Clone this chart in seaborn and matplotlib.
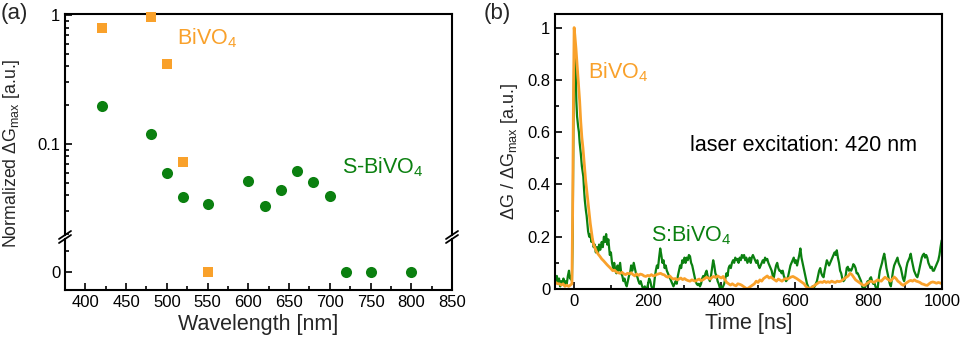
import numpy as np
import pandas as pd
import matplotlib
matplotlib.use("Agg")
import matplotlib.pyplot as plt
from matplotlib.lines import Line2D
from matplotlib.ticker import FixedLocator, NullFormatter, FixedFormatter, MultipleLocator
import seaborn as sns

# ---------------- data ----------------
wavelength_bivo4 = [420, 480, 500, 520, 550]
signal_bivo4 = [0.79, 0.97, 0.42, 0.072, 0.0]

wavelength_sbivo4 = [420, 480, 500, 520, 550, 600, 620, 640, 660, 680, 700, 720, 750, 800]
signal_sbivo4 = [0.197, 0.12, 0.060, 0.0386, 0.0344, 0.052, 0.033, 0.044, 0.0614, 0.0507, 0.0395, 0.0, 0.0, 0.0]

x_ticks_a = [400, 450, 500, 550, 600, 650, 700, 750, 800, 850]
x_ticks_b = [0, 200, 400, 600, 800, 1000]
y_ticks_b = [0, 0.2, 0.4, 0.6, 0.8, 1.0]
y_ticklabels_b = ["0", "0.2", "0.4", "0.6", "0.8", "1"]

green_time = [-50, -47, -44, -41, -38, -35, -32, -29, -26, -23, -20, -17, -14, -11, -8, -6, -4, -2, 0, 2, 4, 6, 8, 11, 13, 15, 18, 21, 25, 27, 29, 32, 34, 36, 38, 41, 44, 47, 50, 53, 56, 59, 62, 65, 68, 71, 75, 78, 81, 84, 87, 90, 93, 97, 100, 103, 106, 109, 112, 115, 118, 121, 125, 128, 131, 134, 137, 140, 143, 146, 149, 152, 155, 158, 162, 165, 168, 171, 175, 178, 181, 185, 188, 192, 195, 198,
              201, 204, 207, 210, 213, 216, 219, 222, 225, 228, 231, 234, 237, 240, 243, 246, 249, 252, 255, 258, 261, 264, 267, 270, 273, 276, 279, 282, 285, 288, 291, 294, 297, 300, 303, 306, 309, 312, 315, 318, 321, 324, 327, 330, 333, 336, 339, 342, 345, 348, 351, 354, 357, 360, 363, 366, 369, 372, 375, 378, 381, 384, 387, 390, 393, 396, 399,
              402, 405, 408, 411, 414, 417, 420, 423, 426, 429, 432, 435, 438, 441, 444, 447, 450, 453, 456, 459, 462, 465, 468, 471, 474, 477, 480, 483, 486, 489, 492, 495, 498, 501, 504, 507, 510, 513, 516, 519, 522, 525, 528, 531, 534, 537, 540, 543, 546, 549, 552, 555, 558, 561, 564, 567, 570, 573, 576, 579, 582, 585, 588, 591, 594, 597, 600,
              603, 606, 609, 612, 615, 618, 621, 624, 627, 630, 633, 636, 639, 642, 645, 648, 651, 654, 657, 660, 663, 666, 669, 672, 675, 678, 681, 684, 687, 690, 693, 696, 699, 702, 705, 708, 711, 714, 717, 720, 723, 726, 729, 732, 735, 738, 741, 744, 747, 750, 753, 756, 759, 762, 765, 768, 771, 774, 777, 780, 783, 786, 789, 792, 795, 798,
              801, 804, 807, 810, 813, 816, 819, 822, 825, 828, 831, 834, 837, 840, 843, 846, 849, 852, 855, 858, 861, 864, 867, 870, 873, 876, 879, 882, 885, 888, 891, 894, 897, 900, 903, 906, 909, 912, 915, 918, 921, 924, 927, 930, 933, 936, 939, 942, 945, 948, 951, 954, 957, 960, 963, 966, 969, 972, 975, 978, 981, 984, 987, 990, 993, 996, 999]
green_signal = [0.03, 0.05, 0.02, 0.04, 0.01, 0.03, 0.02, 0.04, 0.015, 0.03, 0.02, 0.05, 0.07, 0.04, 0.05, 0.03, 0.2, 0.6, 0.85, 0.92, 0.85, 0.72, 0.66, 0.62, 0.6, 0.56, 0.52, 0.47, 0.43, 0.38, 0.34, 0.3, 0.28, 0.25, 0.22, 0.2, 0.21, 0.18, 0.19, 0.16, 0.17, 0.14, 0.16, 0.14, 0.17, 0.15, 0.18, 0.16, 0.2, 0.18, 0.21, 0.17, 0.19, 0.13, 0.14, 0.1, 0.08, 0.1, 0.07, 0.06, 0.09, 0.07, 0.1, 0.06, 0.05, 0.03, 0.04, 0.02, 0.01, 0.03, 0.05, 0.06, 0.09, 0.07, 0.1, 0.08, 0.06, 0.05, 0.03, 0.02, 0.03, 0.01, 0.0, 0.01, 0.0, 0.0,
                0.02, 0.04, 0.03, 0.01, 0.0, 0.0, 0.04, 0.07, 0.09, 0.08, 0.12, 0.155, 0.13, 0.1, 0.11, 0.08, 0.09, 0.07, 0.06, 0.05, 0.04, 0.03, 0.02, 0.01, 0.02, 0.03, 0.02, 0.05, 0.07, 0.09, 0.08, 0.11, 0.1, 0.12, 0.1, 0.12, 0.11, 0.13, 0.125, 0.1, 0.09, 0.07, 0.05, 0.03, 0.02, 0.015, 0.02, 0.01, 0.02, 0.04, 0.05, 0.04, 0.06, 0.07, 0.05, 0.04, 0.03, 0.05, 0.08, 0.11, 0.09, 0.06, 0.05, 0.03, 0.02, 0.005, 0.01,
                0.0, 0.01, 0.02, 0.04, 0.06, 0.05, 0.08, 0.09, 0.08, 0.1, 0.11, 0.1, 0.12, 0.11, 0.115, 0.1, 0.12, 0.11, 0.13, 0.12, 0.13, 0.11, 0.12, 0.1, 0.11, 0.12, 0.1, 0.12, 0.13, 0.12, 0.11, 0.1, 0.11, 0.09, 0.08, 0.09, 0.1, 0.11, 0.1, 0.12, 0.11, 0.115, 0.1, 0.09, 0.08, 0.07, 0.05, 0.045, 0.07, 0.09, 0.1, 0.08, 0.07, 0.07, 0.06, 0.07, 0.05, 0.04, 0.03, 0.035, 0.05, 0.07, 0.09, 0.1, 0.11, 0.12, 0.1,
                0.11, 0.09, 0.11, 0.13, 0.155, 0.12, 0.1, 0.08, 0.06, 0.04, 0.02, 0.01, 0.0, 0.0, 0.005, 0.01, 0.005, 0.01, 0.02, 0.03, 0.05, 0.07, 0.08, 0.06, 0.05, 0.045, 0.07, 0.09, 0.11, 0.1, 0.09, 0.1, 0.11, 0.12, 0.13, 0.14, 0.13, 0.148, 0.12, 0.1, 0.07, 0.06, 0.04, 0.03, 0.035, 0.05, 0.08, 0.085, 0.07, 0.075, 0.07, 0.08, 0.095, 0.09, 0.08, 0.06, 0.06, 0.05, 0.04, 0.03, 0.01, 0.0, 0.0, 0.01, 0.02, 0.03,
                0.02, 0.04, 0.045, 0.03, 0.02, 0.025, 0.01, 0.0, 0.0, 0.04, 0.07, 0.085, 0.1, 0.12, 0.135, 0.11, 0.08, 0.06, 0.04, 0.02, 0.01, 0.04, 0.07, 0.09, 0.1, 0.11, 0.12, 0.1, 0.09, 0.08, 0.06, 0.04, 0.03, 0.05, 0.08, 0.1, 0.11, 0.12, 0.135, 0.11, 0.09, 0.07, 0.06, 0.05, 0.045, 0.06, 0.08, 0.1, 0.12, 0.13, 0.135, 0.12, 0.13, 0.12, 0.1, 0.09, 0.08, 0.085, 0.07, 0.07, 0.08, 0.09, 0.1, 0.11, 0.13, 0.16, 0.186]

orange_time = [-50, -45, -40, -35, -30, -25, -20, -15, -10, -6, -4, -2, 0, 2, 5, 8, 11, 15, 18, 21, 24, 28, 31, 34, 38, 41, 44, 47, 50, 53, 56, 60, 65, 70, 75, 80, 85, 90, 95, 100, 105, 110, 115, 120, 125, 130, 135, 140, 145, 150, 155, 160, 165, 170, 175, 180, 185, 190, 195,
               200, 205, 210, 215, 220, 225, 230, 235, 240, 245, 250, 255, 260, 265, 270, 275, 280, 285, 290, 295, 300, 305, 310, 315, 320, 325, 330, 335, 340, 345, 350, 355, 360, 365, 370, 375, 380, 385, 390, 395,
               400, 405, 410, 415, 420, 425, 430, 435, 440, 445, 450, 455, 460, 465, 470, 475, 480, 485, 490, 495, 500, 505, 510, 515, 520, 525, 530, 535, 540, 545, 550, 555, 560, 565, 570, 575, 580, 585, 590, 595,
               600, 605, 610, 615, 620, 625, 630, 635, 640, 645, 650, 655, 660, 665, 670, 675, 680, 685, 690, 695, 700, 705, 710, 715, 720, 725, 730, 735, 740, 745, 750, 755, 760, 765, 770, 775, 780, 785, 790, 795,
               800, 805, 810, 815, 820, 825, 830, 835, 840, 845, 850, 855, 860, 865, 870, 875, 880, 885, 890, 895, 900, 905, 910, 915, 920, 925, 930, 935, 940, 945, 950, 955, 960, 965, 970, 975, 980, 985, 990, 995, 1000]
orange_signal = [0.025, 0.02, 0.02, 0.015, 0.02, 0.01, 0.015, 0.01, 0.015, 0.02, 0.3, 0.7, 1.0, 0.97, 0.92, 0.86, 0.8, 0.72, 0.64, 0.58, 0.54, 0.47, 0.42, 0.38, 0.33, 0.29, 0.25, 0.22, 0.19, 0.17, 0.16, 0.145, 0.134, 0.125, 0.115, 0.108, 0.1, 0.092, 0.085, 0.078, 0.07, 0.072, 0.065, 0.062, 0.06, 0.064, 0.058, 0.055, 0.06, 0.058, 0.062, 0.055, 0.05, 0.058, 0.052, 0.057, 0.055, 0.05, 0.048,
                 0.052, 0.05, 0.055, 0.05, 0.052, 0.056, 0.058, 0.06, 0.056, 0.054, 0.048, 0.045, 0.05, 0.042, 0.038, 0.04, 0.035, 0.038, 0.042, 0.036, 0.04, 0.035, 0.032, 0.03, 0.035, 0.032, 0.03, 0.035, 0.038, 0.032, 0.035, 0.04, 0.045, 0.042, 0.038, 0.045, 0.048, 0.044, 0.05, 0.046,
                 0.042, 0.048, 0.035, 0.025, 0.02, 0.015, 0.02, 0.015, 0.012, 0.02, 0.018, 0.015, 0.01, 0.005, 0.0, 0.005, 0.01, 0.015, 0.02, 0.03, 0.025, 0.035, 0.03, 0.04, 0.045, 0.05, 0.042, 0.046, 0.04, 0.035, 0.03, 0.038, 0.034, 0.03, 0.036, 0.04, 0.038, 0.042, 0.046, 0.048,
                 0.044, 0.04, 0.035, 0.03, 0.025, 0.02, 0.01, 0.005, 0.0, 0.005, 0.01, 0.015, 0.02, 0.025, 0.027, 0.025, 0.03, 0.025, 0.028, 0.025, 0.03, 0.027, 0.025, 0.03, 0.028, 0.03, 0.035, 0.04, 0.045, 0.05, 0.06, 0.055, 0.045, 0.035, 0.03, 0.025, 0.02, 0.015, 0.014, 0.02,
                 0.025, 0.03, 0.028, 0.025, 0.03, 0.035, 0.032, 0.03, 0.038, 0.045, 0.04, 0.035, 0.03, 0.038, 0.046, 0.04, 0.03, 0.025, 0.018, 0.014, 0.02, 0.025, 0.03, 0.033, 0.03, 0.035, 0.03, 0.028, 0.025, 0.02, 0.018, 0.015, 0.014, 0.02, 0.025, 0.027, 0.025, 0.022, 0.025, 0.023, 0.02]

# ---------------- style ----------------
sns.set_theme(style="ticks")
plt.rcParams["font.family"] = ["Liberation Sans", "DejaVu Sans"]
plt.rcParams["mathtext.fontset"] = "custom"
plt.rcParams["mathtext.rm"] = "Liberation Sans"
plt.rcParams["mathtext.it"] = "Liberation Sans:italic"
plt.rcParams["mathtext.default"] = "regular"

ORANGE = "#F9A12B"
GREEN = "#0B8010"
TICK_FS = 12
LABEL_FS = 15.5
ANN_FS = 15.5
SPINE_W = 1.5

W, H = 962, 342
fig = plt.figure(figsize=(W / 100, H / 100), dpi=100)

def frac(left_px, top_px, right_px, bottom_px):
    return [left_px / W, 1 - bottom_px / H, (right_px - left_px) / W, (bottom_px - top_px) / H]

ax_up = fig.add_axes(frac(65, 14, 452, 235))
ax_lo = fig.add_axes(frac(65, 239, 452, 290))
ax_b = fig.add_axes(frac(555, 14, 942, 289))

df_b = pd.DataFrame({"x": wavelength_bivo4, "y": signal_bivo4})
df_s = pd.DataFrame({"x": wavelength_sbivo4, "y": signal_sbivo4})

for ax, sel in ((ax_up, lambda d: d[d.y > 0]), (ax_lo, lambda d: d[d.y <= 0])):
    sns.scatterplot(data=sel(df_s), x="x", y="y", ax=ax, color=GREEN, marker="o",
                    s=64, linewidth=0, clip_on=False, zorder=3)
    sns.scatterplot(data=sel(df_b), x="x", y="y", ax=ax, color=ORANGE, marker="s",
                    s=52, linewidth=0, clip_on=False, zorder=3)
    ax.set_xlim(375, 850)
    ax.set_xlabel("")
    ax.set_ylabel("")
    for sp in ax.spines.values():
        sp.set_linewidth(SPINE_W)
        sp.set_color("black")
    ax.tick_params(direction="in", which="both", width=1.2, labelsize=TICK_FS,
                   top=False, right=False, colors="black")
    ax.tick_params(which="major", length=5)
    ax.tick_params(which="minor", length=3)

ax_up.set_yscale("log")
ax_up.set_ylim(0.0197, 1.018)
ax_up.yaxis.set_major_locator(FixedLocator([0.1, 1.0]))
ax_up.yaxis.set_major_formatter(FixedFormatter(["0.1", "1"]))
ax_up.yaxis.set_minor_locator(FixedLocator([0.02, 0.03, 0.04, 0.05, 0.06, 0.07, 0.08, 0.09,
                                            0.2, 0.3, 0.4, 0.5, 0.6, 0.7, 0.8, 0.9]))
ax_up.yaxis.set_minor_formatter(NullFormatter())
ax_up.spines["bottom"].set_visible(False)
ax_up.tick_params(axis="x", which="both", bottom=False, labelbottom=False)

ax_lo.set_ylim(-0.0089, 0.0160)
ax_lo.yaxis.set_major_locator(FixedLocator([0.0]))
ax_lo.yaxis.set_major_formatter(FixedFormatter(["0"]))
ax_lo.yaxis.set_minor_locator(FixedLocator([0.01]))
ax_lo.spines["top"].set_visible(False)
ax_lo.xaxis.set_major_locator(FixedLocator(x_ticks_a))
ax_lo.xaxis.set_minor_locator(MultipleLocator(25))
ax_lo.set_xlabel("Wavelength [nm]", fontsize=LABEL_FS, labelpad=3)

fig.text(12 / W, 1 - 153 / H, "Normalized ΔG$_{\\mathrm{max}}$ [a.u.]", rotation=90,
         ha="center", va="center", fontsize=12.8)

# break marks
for xpx in (65, 452):
    for ypx in (235, 239):
        x0, x1 = (xpx - 6) / W, (xpx + 6) / W
        y0, y1 = 1 - (ypx + 4) / H, 1 - (ypx - 4) / H
        fig.add_artist(Line2D([x0, x1], [y0, y1], color="black", lw=1.3))

ax_up.text(512, 0.66, "BiVO$_4$", color=ORANGE, fontsize=ANN_FS, ha="left", va="center")
ax_up.text(715, 0.066, "S-BiVO$_4$", color=GREEN, fontsize=ANN_FS, ha="left", va="center")

fig.text(1 / W, 1 - 14 / H, "(a)", fontsize=16, ha="left", va="center")
fig.text(484 / W, 1 - 14 / H, "(b)", fontsize=16, ha="left", va="center")

# ---------------- panel b ----------------
df_g = pd.DataFrame({"t": green_time, "y": green_signal})
df_o = pd.DataFrame({"t": orange_time, "y": orange_signal})
sns.lineplot(data=df_g, x="t", y="y", ax=ax_b, color=GREEN, lw=1.6, estimator=None, sort=False)
sns.lineplot(data=df_o, x="t", y="y", ax=ax_b, color=ORANGE, lw=2.0, estimator=None, sort=False)
ax_b.set_xlim(-52, 1000)
ax_b.set_ylim(0, 1.052)
ax_b.xaxis.set_major_locator(FixedLocator(x_ticks_b))
ax_b.xaxis.set_minor_locator(MultipleLocator(100))
ax_b.yaxis.set_major_locator(FixedLocator(y_ticks_b))
ax_b.yaxis.set_major_formatter(FixedFormatter(y_ticklabels_b))
ax_b.yaxis.set_minor_locator(MultipleLocator(0.1))
for sp in ax_b.spines.values():
    sp.set_linewidth(SPINE_W)
    sp.set_color("black")
ax_b.tick_params(direction="in", which="both", width=1.2, labelsize=TICK_FS,
                 top=False, right=False, colors="black")
ax_b.tick_params(which="major", length=5)
ax_b.tick_params(which="minor", length=3)
ax_b.set_xlabel("Time [ns]", fontsize=LABEL_FS, labelpad=3)
ax_b.set_ylabel("ΔG / ΔG$_{\\mathrm{max}}$ [a.u.]", fontsize=13, labelpad=5)

ax_b.text(38, 0.83, "BiVO$_4$", color=ORANGE, fontsize=ANN_FS, ha="left", va="center")
ax_b.text(208, 0.205, "S:BiVO$_4$", color=GREEN, fontsize=ANN_FS, ha="left", va="center")
ax_b.text(315, 0.548, "laser excitation: 420 nm", color="black", fontsize=ANN_FS,
          ha="left", va="center")

fig.savefig("out.png", dpi=100)
